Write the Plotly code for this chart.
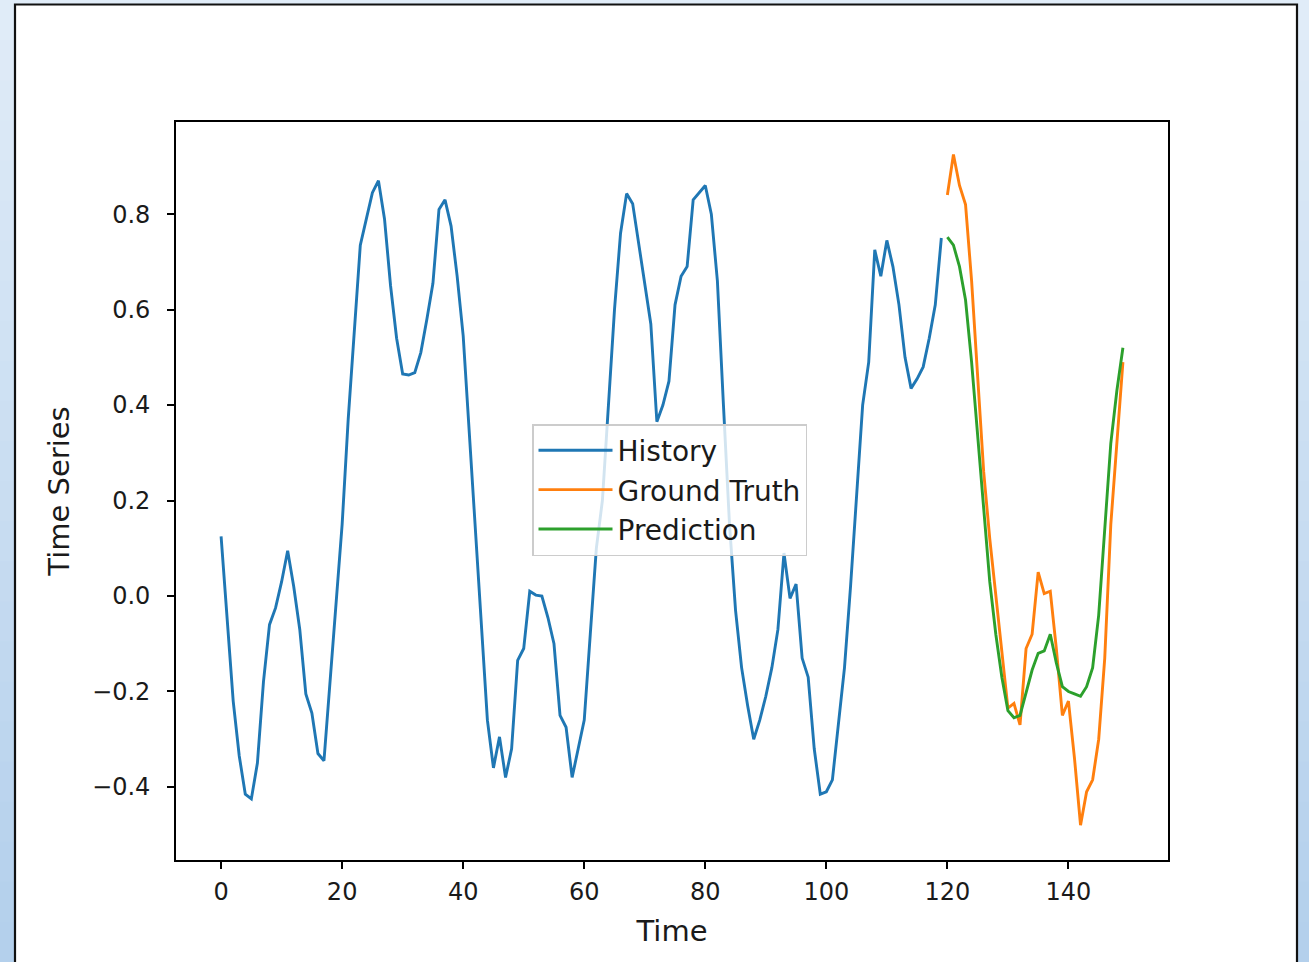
import plotly.graph_objects as go

history_t = list(range(0, 120))
history = [
    0.125, -0.04, -0.22, -0.335, -0.415, -0.425, -0.35, -0.18, -0.06, -0.025,
    0.03, 0.095, 0.02, -0.07, -0.205, -0.245, -0.33, -0.345, -0.18, -0.01,
    0.15, 0.37, 0.56, 0.735, 0.79, 0.845, 0.87, 0.79, 0.65, 0.54,
    0.465, 0.463, 0.468, 0.51, 0.58, 0.655, 0.81, 0.83, 0.775, 0.67,
    0.545, 0.34, 0.14, -0.06, -0.26, -0.36, -0.295, -0.38, -0.32, -0.135,
    -0.11, 0.01, 0.002, 0.0, -0.045, -0.1, -0.25, -0.275, -0.38, -0.32,
    -0.26, -0.08, 0.1, 0.2, 0.4, 0.6, 0.76, 0.843, 0.822, 0.74,
    0.66, 0.57, 0.365, 0.4, 0.45, 0.61, 0.67, 0.69, 0.83, 0.845,
    0.86, 0.8, 0.66, 0.4, 0.15, -0.03, -0.15, -0.23, -0.3, -0.26,
    -0.21, -0.15, -0.07, 0.09, -0.005, 0.025, -0.13, -0.17, -0.32, -0.415,
    -0.41, -0.385, -0.26, -0.15, 0.02, 0.2, 0.4, 0.49, 0.725, 0.67,
    0.745, 0.69, 0.61, 0.5, 0.435, 0.455, 0.48, 0.54, 0.61, 0.75,
]

future_t = list(range(120, 150))
ground_truth = [
    0.84, 0.925, 0.86, 0.82, 0.66, 0.45, 0.26, 0.12, 0.0, -0.12,
    -0.235, -0.225, -0.27, -0.11, -0.08, 0.05, 0.005, 0.01, -0.11, -0.25,
    -0.22, -0.34, -0.48, -0.41, -0.385, -0.3, -0.13, 0.15, 0.33, 0.49,
]
prediction = [
    0.752, 0.735, 0.69, 0.62, 0.49, 0.34, 0.18, 0.03, -0.08, -0.17,
    -0.24, -0.255, -0.25, -0.2, -0.155, -0.12, -0.115, -0.08, -0.14, -0.19,
    -0.2, -0.205, -0.21, -0.19, -0.15, -0.04, 0.13, 0.32, 0.43, 0.52,
]

x_ticks = [0, 20, 40, 60, 80, 100, 120, 140]
y_ticks = [-0.4, -0.2, 0.0, 0.2, 0.4, 0.6, 0.8]
y_tick_text = ["\u22120.4", "\u22120.2", "0.0", "0.2", "0.4", "0.6", "0.8"]

W, H = 1309, 962
L, R, T, B = 176, 1168, 122, 860


def px_x(p):
    return (p - L) / (R - L)


def px_y(p):
    return (B - p) / (B - T)


fig = go.Figure()
fig.add_trace(go.Scatter(x=history_t, y=history, mode="lines", name="History",
                         line=dict(color="#1f77b4", width=2.9)))
fig.add_trace(go.Scatter(x=future_t, y=ground_truth, mode="lines", name="Ground Truth",
                         line=dict(color="#ff7f0e", width=2.9)))
fig.add_trace(go.Scatter(x=future_t, y=prediction, mode="lines", name="Prediction",
                         line=dict(color="#2ca02c", width=2.9)))

shapes = []
# light blue gradient background (bands)
n = 24
c0 = (224, 236, 248)
c1 = (180, 208, 236)
for i in range(n):
    f = i / (n - 1)
    col = tuple(int(c0[k] + (c1[k] - c0[k]) * f) for k in range(3))
    y_top = i * H / n
    y_bot = (i + 1) * H / n + 1
    shapes.append(dict(type="rect", xref="paper", yref="paper",
                       x0=px_x(-5), x1=px_x(W + 5), y0=px_y(y_bot), y1=px_y(y_top),
                       fillcolor="rgb(%d,%d,%d)" % col, line=dict(width=0), layer="below"))
# white panel with dark border
shapes.append(dict(type="rect", xref="paper", yref="paper",
                   x0=px_x(15), x1=px_x(1297), y0=px_y(H + 10), y1=px_y(4.5),
                   fillcolor="white", line=dict(color="#111111", width=2.2), layer="below"))

fig.update_layout(
    width=W, height=H,
    margin=dict(l=L, r=W - R, t=T, b=H - B, pad=0),
    paper_bgcolor="#d5e5f5",
    plot_bgcolor="white",
    font=dict(family="DejaVu Sans", size=24, color="#1a1a1a"),
    shapes=shapes,
    showlegend=True,
    legend=dict(x=px_x(532), y=px_y(424), xanchor="left", yanchor="top",
                bgcolor="rgba(255,255,255,0.8)", bordercolor="#cccccc", borderwidth=1.5,
                font=dict(size=28, family="DejaVu Sans", color="#1a1a1a"),
                itemwidth=74, tracegroupgap=0),
    xaxis=dict(range=[-7.45, 156.45], tickmode="array", tickvals=x_ticks,
               ticktext=[str(v) for v in x_ticks],
               showgrid=False, zeroline=False, showline=True, linecolor="black",
               linewidth=1.6, mirror=True, ticks="outside", ticklen=7, tickwidth=1.6,
               tickcolor="black", ticklabelstandoff=2, title=dict(text="Time", standoff=16)),
    yaxis=dict(range=[-0.553, 0.993], tickmode="array", tickvals=y_ticks,
               ticktext=y_tick_text,
               showgrid=False, zeroline=False, showline=True, linecolor="black",
               linewidth=1.6, mirror=True, ticks="outside", ticklen=7, tickwidth=1.6,
               tickcolor="black", ticklabelstandoff=12,
               title=dict(text="Time Series", standoff=14)),
)

fig.write_html("out.html")
